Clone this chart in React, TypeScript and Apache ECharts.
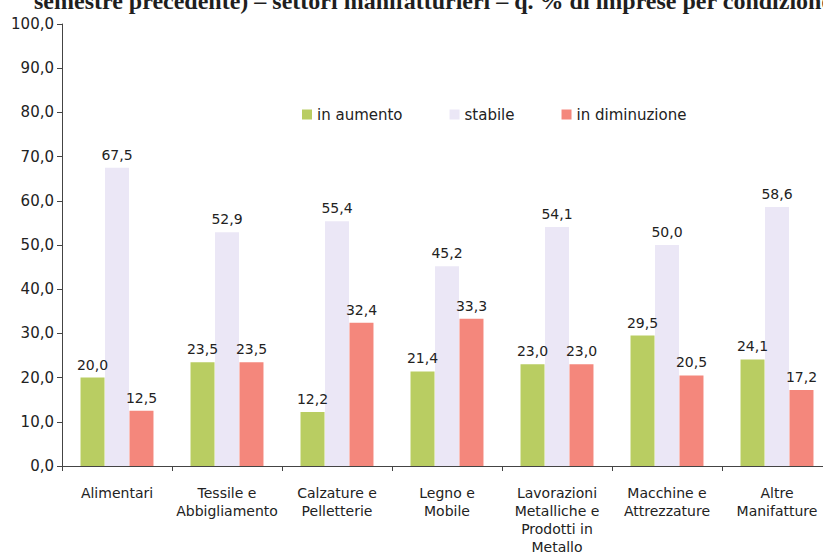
import React, { useEffect, useRef } from "react";
import * as echarts from "echarts";

const categories = [
  "Alimentari",
  "Tessile e\nAbbigliamento",
  "Calzature e\nPelletterie",
  "Legno e\nMobile",
  "Lavorazioni\nMetalliche e\nProdotti in\nMetallo",
  "Macchine e\nAttrezzature",
  "Altre\nManifatture",
];
const inAumento = [20.0, 23.5, 12.2, 21.4, 23.0, 29.5, 24.1];
const stabile = [67.5, 52.9, 55.4, 45.2, 54.1, 50.0, 58.6];
const inDiminuzione = [12.5, 23.5, 32.4, 33.3, 23.0, 20.5, 17.2];
const titleText =
  "semestre precedente) \u2013 settori manifatturieri \u2013 q. % di imprese per condizione";

const fmt = (v: number) => v.toFixed(1).replace(".", ",");
const SANS = "'DejaVu Sans', Arial, sans-serif";

export default function App() {
  const ref = useRef<HTMLDivElement>(null);
  useEffect(() => {
    if (!ref.current) return;
    const chart = echarts.init(ref.current, null, { renderer: "svg" });
    const labelStyle = {
      show: true,
      position: "top" as const,
      distance: 6,
      fontFamily: SANS,
      fontSize: 14,
      color: "#222",
      formatter: (p: any) => fmt(p.value),
    };
    chart.setOption({
      animation: false,
      backgroundColor: "#fff",
      textStyle: { fontFamily: SANS },
      graphic: [
        {
          type: "text",
          left: 34,
          top: -11,
          style: {
            text: titleText,
            font: "bold 24px 'Liberation Serif', 'Times New Roman', serif",
            fill: "#1f1f1f",
          },
        },
      ],
      legend: {
        top: 102,
        left: 297,
        itemWidth: 10,
        itemHeight: 10,
        itemGap: 47,
        icon: "rect",
        textStyle: { fontSize: 15, color: "#222", fontFamily: SANS },
        data: ["in aumento", "stabile", "in diminuzione"],
      },
      grid: { left: 62, right: 13, top: 24, bottom: 93, containLabel: false },
      xAxis: {
        type: "category",
        data: categories,
        axisLine: { lineStyle: { color: "#444", width: 1 } },
        axisTick: { show: true, length: 5, lineStyle: { color: "#444" } },
        axisLabel: {
          interval: 0,
          margin: 18,
          fontSize: 14,
          lineHeight: 18,
          color: "#222",
          fontFamily: SANS,
        },
      },
      yAxis: {
        type: "value",
        min: 0,
        max: 100,
        interval: 10,
        splitLine: { show: false },
        axisLine: { show: true, lineStyle: { color: "#444" } },
        axisTick: { show: true, length: 5, lineStyle: { color: "#444" } },
        axisLabel: {
          formatter: (v: number) => fmt(v),
          fontSize: 15,
          color: "#222",
          margin: 8,
          fontFamily: SANS,
        },
      },
      series: [
        {
          name: "in aumento",
          type: "bar",
          data: inAumento,
          barWidth: 24,
          barGap: "2%",
          itemStyle: { color: "#b9cd62" },
          label: labelStyle,
        },
        {
          name: "stabile",
          type: "bar",
          data: stabile,
          barWidth: 24,
          barGap: "2%",
          itemStyle: { color: "#ebe7f6" },
          label: labelStyle,
        },
        {
          name: "in diminuzione",
          type: "bar",
          data: inDiminuzione,
          barWidth: 24,
          barGap: "2%",
          itemStyle: { color: "#f4877c" },
          label: labelStyle,
        },
      ],
    });
    return () => chart.dispose();
  }, []);
  return (
    <div style={{ position: "fixed", left: 0, top: 0, width: 823, height: 559, overflow: "hidden" }}>
      <div ref={ref} style={{ width: 845, height: 559 }} />
    </div>
  );
}
